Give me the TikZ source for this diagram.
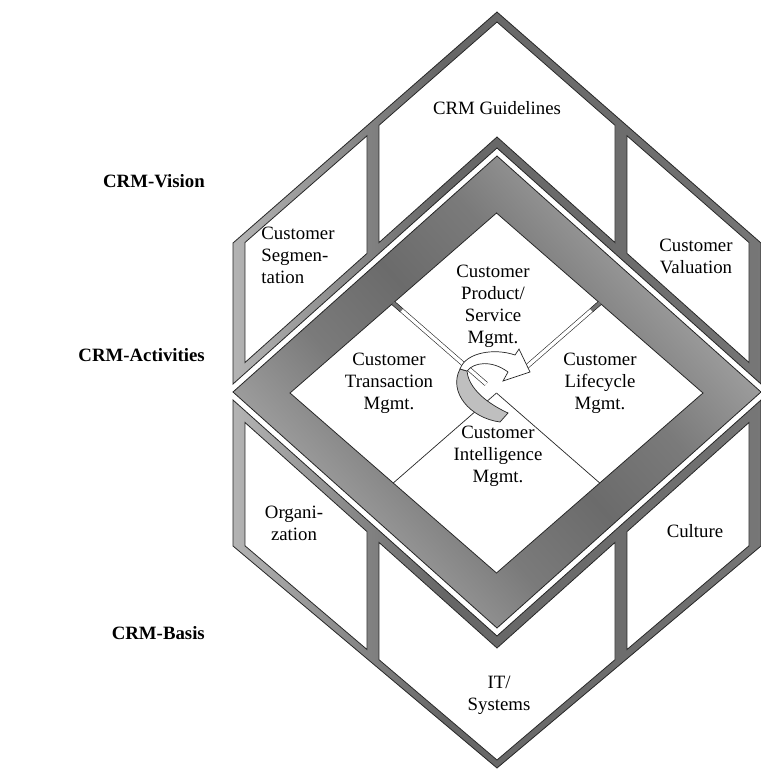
\documentclass[tikz,border=0pt]{standalone}
\usepackage{fontspec}
\setmainfont{Liberation Serif}
\usetikzlibrary{calc}
% metallic gradients: light ends, dark middle (frame) / light left, dark right (layers)
\pgfdeclarehorizontalshading{metalbar}{100bp}{color(0bp)=(black!18); color(18bp)=(black!22); color(40bp)=(black!52); color(50bp)=(black!58); color(60bp)=(black!52); color(82bp)=(black!22); color(100bp)=(black!18)}
\pgfdeclarehorizontalshading{metalside}{100bp}{color(0bp)=(black!14); color(20bp)=(black!22); color(45bp)=(black!60); color(70bp)=(black!56); color(100bp)=(black!40)}
\begin{document}
\begin{tikzpicture}[x=1pt,y=-1pt,
  edge/.style={draw=black!85, line width=0.8pt, line join=miter},
  cell/.style={edge, fill=white},
  layerband/.style={edge, shading=metalside, shading angle=0},
  frameband/.style={edge, shading=metalbar, shading angle=41.8},
  divider/.style={draw=black!85, line width=0.7pt},
  rail/.style={draw=black!85, line width=0.6pt, double=white, double distance=3.4pt},
  lbl/.style={font=\fontsize{18.8}{22}\selectfont, align=center, inner sep=0pt},
  layername/.style={font=\bfseries\fontsize{18.8}{22}\selectfont, anchor=east, inner sep=0pt},
]
\useasboundingbox (0,0) rectangle (761,772);

% ---------- CRM vision (roof) ----------
\path[layerband] (497,12) -- (233,243) -- (233,384) -- (497,148) -- (761,384) -- (761,243) -- cycle;
\path[cell] (245,242.5) -- (367,135.8) -- (367,253.4) -- (245,362.5) -- cycle;
\path[cell] (379,125.3) -- (497,22) -- (615,125.3) -- (615,242.6) -- (497,137) -- (379,242.6) -- cycle;
\path[cell] (749,242.5) -- (627,135.8) -- (627,253.4) -- (749,362.5) -- cycle;

% ---------- CRM basis ----------
\path[layerband] (233,400) -- (497,636) -- (761,400) -- (761,546) -- (497,768) -- (233,546) -- cycle;
\path[cell] (245,422.5) -- (367,531.6) -- (367,649.5) -- (245,545.8) -- cycle;
\path[cell] (379,542.4) -- (497,648) -- (615,542.4) -- (615,659.7) -- (497,760) -- (379,659.7) -- cycle;
\path[cell] (749,422.5) -- (627,531.6) -- (627,649.5) -- (749,545.8) -- cycle;

% ---------- CRM activities (frame) ----------
\path[frameband] (497,156) -- (761,392) -- (497,628) -- (233,392) -- cycle;
\path[cell] (496.5,213) -- (703,393) -- (496.5,573) -- (290,393) -- cycle;

\coordinate (ul) at (393.25,303);
\coordinate (ur) at (599.75,303);
\coordinate (ll) at (393.25,483);
\coordinate (lr) at (599.75,483);
\coordinate (ctr) at (496.5,393);

\draw[divider] (ctr) -- (ll);
\draw[divider] (ctr) -- (lr);

% cycle arrow, back side of the ribbon
\path[edge, fill=black!25, line width=0.7pt]
  (467,371) .. controls (468,384) and (480,400) .. (508,413)
  -- (500,422) .. controls (470,418) and (448,392) .. (460,369) -- cycle;

\draw[rail] (ul) -- ($(ul)!0.9!(ctr)$);
\draw[rail] (ur) -- ($(ur)!0.72!(ctr)$);
\draw[rail, double=black!55] (ul) -- ($(ul)!0.08!(ctr)$);
\draw[rail, double=black!55] (ur) -- ($(ur)!0.08!(ctr)$);

% cycle arrow, front side with head
\path[edge, fill=white, line width=0.7pt]
  (460,369) .. controls (466,352) and (495,348) .. (515,355)
  -- (519,349) -- (530,372) -- (503,381) -- (508,372)
  .. controls (492,360) and (474,362) .. (467,371) -- cycle;

% ---------- texts ----------
\node[lbl] (guide) at (497,108) {CRM Guidelines};
\node[lbl, align=left] (segm) at (298,255) {Customer\\Segmen-\\tation};
\node[lbl] (valu) at (696,256) {Customer\\Valuation};
\node[lbl] (prod) at (493,306) {Customer\\Product/\\Service\\Mgmt.};
\node[lbl] (trans) at (389,383) {Customer\\Transaction\\Mgmt.};
\node[lbl] (life) at (600,383) {Customer\\Lifecycle\\Mgmt.};
\node[lbl] (intel) at (498,456) {Customer\\Intelligence\\Mgmt.};
\node[lbl] (orga) at (294,523) {Organi-\\zation};
\node[lbl] (cult) at (695,531) {Culture};
\node[lbl] (itsys) at (499,695) {IT/\\Systems};

\node[layername] (vision) at (205,181) {CRM-Vision};
\node[layername] (activ) at (205,355) {CRM-Activities};
\node[layername] (basis) at (205,633) {CRM-Basis};
\end{tikzpicture}
\end{document}
